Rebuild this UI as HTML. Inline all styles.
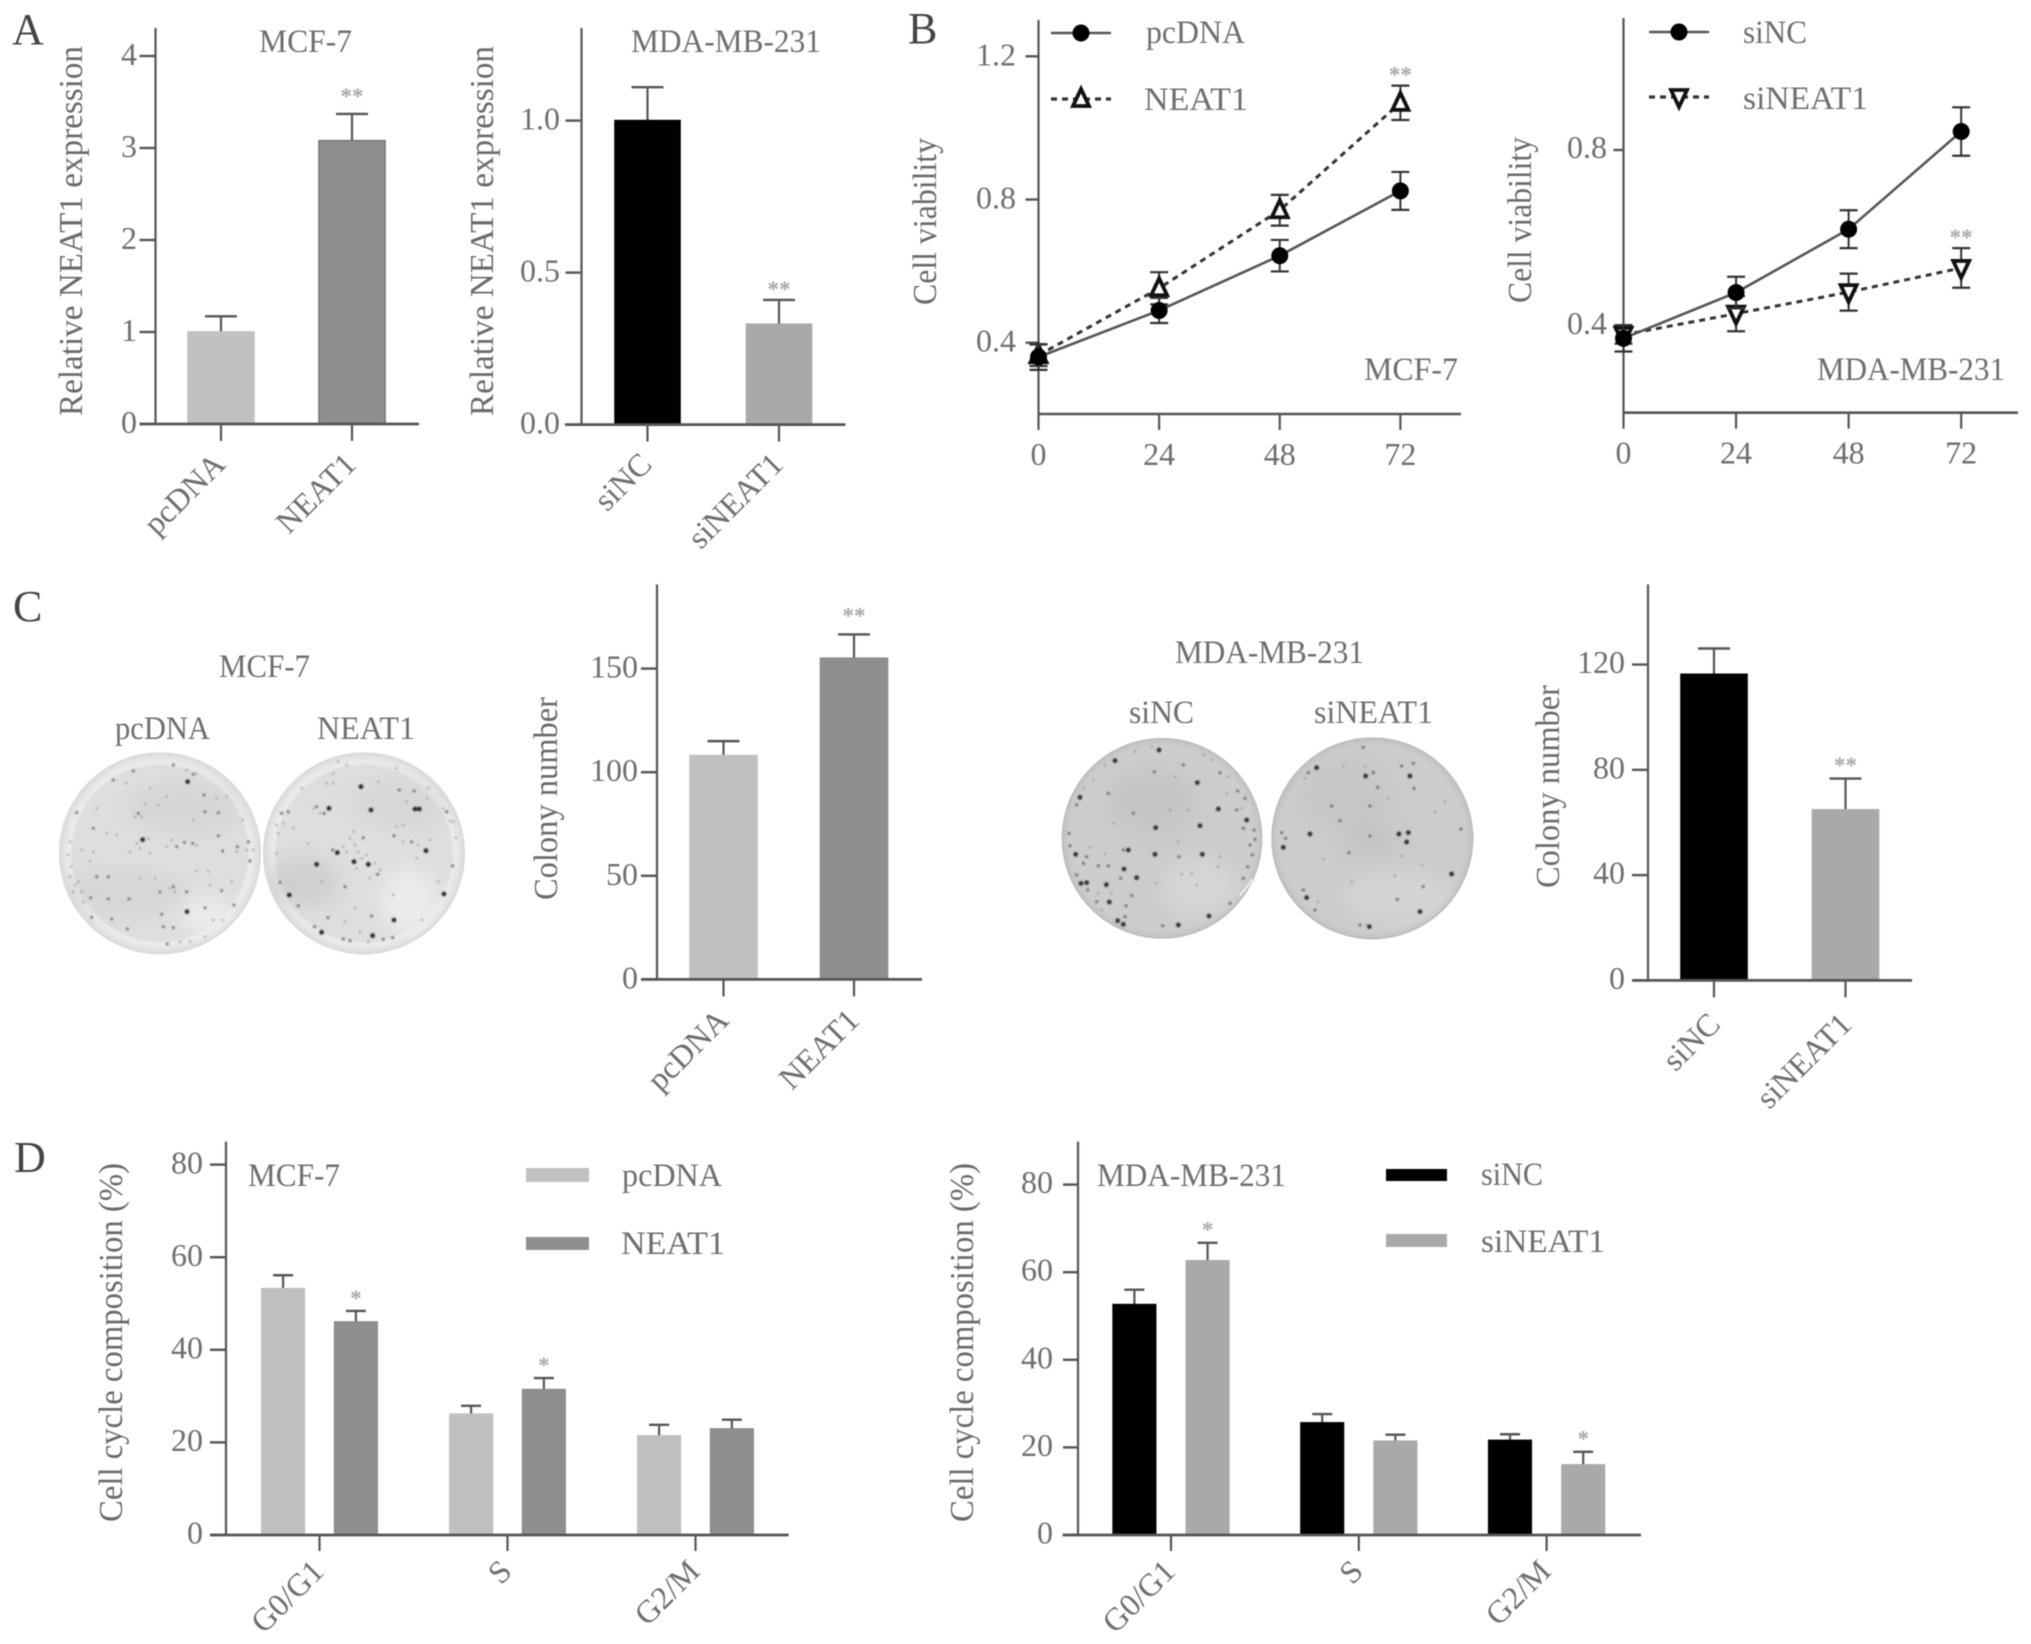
<!DOCTYPE html>
<html lang="en">
<head>
<meta charset="utf-8">
<title>NEAT1 expression, viability, colony formation and cell cycle</title>
<style>
html,body{margin:0;padding:0;background:#fff;}
body{width:2031px;height:1644px;overflow:hidden;}
svg{display:block;filter:blur(.55px);}
text{font-family:"Liberation Serif",serif;fill:#6e6e6e;}
.panel{fill:#444;font-size:44px;}
.lab{font-size:33px;}
.ttl{font-size:33.5px;fill:#6a6a6a;}
</style>
</head>
<body>
<svg id="figure" xmlns="http://www.w3.org/2000/svg" width="2031" height="1644" viewBox="0 0 2031 1644">
<defs>
<radialGradient id="dishLight" cx="50%" cy="50%" r="50%">
<stop offset="0" stop-color="#e0e0e0"/><stop offset=".86" stop-color="#dedede"/><stop offset=".9" stop-color="#ececec"/><stop offset=".97" stop-color="#e0e0e0"/><stop offset="1" stop-color="#d6d6d6"/>
</radialGradient>
<radialGradient id="dishDark" cx="50%" cy="50%" r="50%">
<stop offset="0" stop-color="#cbcbcb"/><stop offset=".92" stop-color="#cdcdcd"/><stop offset=".98" stop-color="#c4c4c4"/><stop offset="1" stop-color="#b4b4b4"/>
</radialGradient>
<filter id="soft" x="-30%" y="-30%" width="160%" height="160%"><feGaussianBlur stdDeviation="28"/></filter>
<filter id="spotBlur" x="-5%" y="-5%" width="110%" height="110%"><feGaussianBlur stdDeviation="2.4"/></filter>
<clipPath id="clipD1"><circle cx="330" cy="325" r="296"/></clipPath>
<clipPath id="clipD2"><circle cx="942" cy="325" r="296"/></clipPath>
<clipPath id="clipD3"><circle cx="321" cy="325" r="296"/></clipPath>
<clipPath id="clipD4"><circle cx="952" cy="325" r="296"/></clipPath>
</defs>

<!-- Panel letters -->
<text class="panel" x="12" y="44">A</text>
<text class="panel" x="908" y="43">B</text>
<text class="panel" x="13" y="621">C</text>
<text class="panel" x="14" y="1172">D</text>

<!-- Panel A text -->
<text class="lab" x="259" y="52" textLength="93" lengthAdjust="spacingAndGlyphs">MCF-7</text>
<text class="lab" x="631" y="52" textLength="190" lengthAdjust="spacingAndGlyphs">MDA-MB-231</text>
<text class="ttl" transform="translate(82,416) rotate(-90)" textLength="370" lengthAdjust="spacingAndGlyphs">Relative NEAT1 expression</text>
<text class="ttl" transform="translate(493,416) rotate(-90)" textLength="370" lengthAdjust="spacingAndGlyphs">Relative NEAT1 expression</text>

<!-- Panel B text and legends -->
<text class="ttl" transform="translate(936,305) rotate(-90)" textLength="167" lengthAdjust="spacingAndGlyphs">Cell viability</text>
<text class="ttl" transform="translate(1531,303) rotate(-90)" textLength="166" lengthAdjust="spacingAndGlyphs">Cell viability</text>
<text class="lab" x="1364" y="380" textLength="94" lengthAdjust="spacingAndGlyphs">MCF-7</text>
<text class="lab" x="1817" y="380" textLength="188" lengthAdjust="spacingAndGlyphs">MDA-MB-231</text>

<g>
<line x1="1051" x2="1111" y1="33" y2="33" stroke="#555" stroke-width="2.6"/>
<circle cx="1081" cy="33" r="8.5" fill="#000"/>
<text class="lab" x="1146" y="43" textLength="99" lengthAdjust="spacingAndGlyphs">pcDNA</text>
</g>
<g>
<line x1="1051" x2="1111" y1="99" y2="99" stroke="#333" stroke-width="3.2" stroke-dasharray="6 5"/>
<polygon points="1081,89 1073,106 1089,106" fill="#fff" stroke="#111" stroke-width="3.8"/>
<text class="lab" x="1144" y="110" textLength="104" lengthAdjust="spacingAndGlyphs">NEAT1</text>
</g>
<g>
<line x1="1649" x2="1709" y1="32" y2="32" stroke="#555" stroke-width="2.6"/>
<circle cx="1679" cy="32" r="8.5" fill="#000"/>
<text class="lab" x="1743" y="43" textLength="64" lengthAdjust="spacingAndGlyphs">siNC</text>
</g>
<g>
<line x1="1649" x2="1709" y1="97" y2="97" stroke="#333" stroke-width="3.2" stroke-dasharray="6 5"/>
<polygon points="1679,107 1671,90 1687,90" fill="#fff" stroke="#111" stroke-width="3.8"/>
<text class="lab" x="1743" y="109" textLength="125" lengthAdjust="spacingAndGlyphs">siNEAT1</text>
</g>

<!-- Panel C text -->
<text class="lab" x="219" y="677" textLength="91" lengthAdjust="spacingAndGlyphs">MCF-7</text>
<text class="lab" x="115" y="739" textLength="95" lengthAdjust="spacingAndGlyphs">pcDNA</text>
<text class="lab" x="317" y="739" textLength="98" lengthAdjust="spacingAndGlyphs">NEAT1</text>
<text class="lab" x="1175" y="663" textLength="189" lengthAdjust="spacingAndGlyphs">MDA-MB-231</text>
<text class="lab" x="1129" y="723" textLength="65" lengthAdjust="spacingAndGlyphs">siNC</text>
<text class="lab" x="1314" y="723" textLength="119" lengthAdjust="spacingAndGlyphs">siNEAT1</text>
<text class="ttl" transform="translate(557,900) rotate(-90)" textLength="203" lengthAdjust="spacingAndGlyphs">Colony number</text>
<text class="ttl" transform="translate(1559,888) rotate(-90)" textLength="203" lengthAdjust="spacingAndGlyphs">Colony number</text>

<!-- Colony dishes (MCF-7) -->
<g transform="translate(50,745) scale(.3333)">
<g>
<circle cx="330" cy="325" r="303" fill="url(#dishLight)"/>
<g clip-path="url(#clipD1)" filter="url(#soft)">
<ellipse cx="400" cy="190" rx="170" ry="75" fill="#c8c8c8" opacity=".4"/>
<ellipse cx="230" cy="440" rx="190" ry="70" fill="#cacaca" opacity=".4"/>
<ellipse cx="470" cy="510" rx="80" ry="60" fill="#eeeeee" opacity=".8"/>
</g>
<g filter="url(#spotBlur)">
<path fill="none" stroke="#2c2c2c" stroke-width="14" stroke-linecap="round" d="M413 110h0M411 500h0M278 284h0"/>
<path fill="none" stroke="#777" stroke-width="9" stroke-linecap="round" d="M80 203h0M130 250h0M403 292h0M380 305h0M428 295h0M505 272h0M562 305h0M595 290h0M600 348h0M518 318h0M175 395h0M140 395h0M237 462h0M122 458h0M175 462h0M410 440h0M515 437h0M465 488h0M552 480h0M335 508h0M340 545h0M125 517h0M185 522h0M232 552h0M370 548h0M352 597h0M330 440h0M370 425h0M265 205h0M465 200h0M505 203h0M462 150h0M370 60h0M430 88h0M250 78h0M190 105h0"/>
<path fill="none" stroke="#a0a0a0" stroke-width="7" stroke-linecap="round" d="M60 290h0M65 365h0M55 330h0M60 395h0M85 410h0M95 440h0M100 470h0M140 190h0M300 130h0M285 175h0M325 180h0M228 115h0M350 155h0M430 225h0M500 160h0M530 155h0M578 225h0M170 265h0M200 270h0M95 315h0M120 348h0M270 310h0M300 325h0M240 320h0M315 400h0M270 400h0M440 378h0M475 380h0M545 410h0M490 525h0M518 525h0M420 590h0M465 575h0M390 590h0M440 85h0M410 75h0M255 215h0M275 215h0M260 295h0M295 280h0M350 305h0M365 285h0M75 420h0M70 440h0M375 440h0M360 430h0M560 320h0M590 315h0M610 315h0M130 320h0M440 300h0M480 420h0"/>
</g>
</g>
<g>
<circle cx="942" cy="325" r="303" fill="url(#dishLight)"/>
<g clip-path="url(#clipD2)" filter="url(#soft)">
<ellipse cx="1040" cy="180" rx="140" ry="70" fill="#cccccc" opacity=".4"/>
<ellipse cx="760" cy="410" rx="110" ry="75" fill="#c2c2c2" opacity=".5"/>
<ellipse cx="1080" cy="470" rx="90" ry="100" fill="#eeeeee" opacity=".8"/>
</g>
<g filter="url(#spotBlur)">
<path fill="none" stroke="#222" stroke-width="14" stroke-linecap="round" d="M933 125h0M837 190h0M963 195h0M1095 192h0M1108 192h0M862 323h0M912 350h0M955 358h0M800 358h0M718 450h0M1032 525h0M968 572h0M815 562h0M1128 317h0M1182 447h0"/>
<path fill="none" stroke="#707070" stroke-width="9" stroke-linecap="round" d="M1032 272h0M1085 290h0M940 278h0M848 315h0M885 425h0M834 518h0M794 545h0M690 412h0M1092 138h0M1048 135h0M715 200h0M695 205h0M800 185h0M822 205h0M745 482h0M1000 583h0M1028 578h0M880 582h0M900 587h0M965 513h0M983 388h0M1208 362h0M1190 200h0"/>
<path fill="none" stroke="#a0a0a0" stroke-width="7" stroke-linecap="round" d="M680 240h0M685 265h0M680 325h0M730 250h0M775 295h0M850 85h0M890 60h0M865 50h0M1040 70h0M1130 160h0M1180 190h0M1200 228h0M1218 278h0M1040 245h0M1060 240h0M910 260h0M915 300h0M890 320h0M925 320h0M950 330h0M975 355h0M920 370h0M960 400h0M815 410h0M1030 450h0M1165 410h0M1115 525h0M955 590h0M930 560h0M885 530h0M915 490h0M790 190h0M810 205h0M850 115h0M830 115h0M985 110h0M1070 170h0M1135 130h0M1060 290h0M1105 300h0M1140 285h0M1100 340h0M900 280h0M880 305h0M935 340h0M990 375h0M1210 230h0M700 235h0M755 130h0"/>
</g>
</g>
</g>

<!-- Colony dishes (MDA-MB-231) -->
<g transform="translate(1055,730) scale(.3333)">
<g>
<circle cx="321" cy="325" r="301" fill="url(#dishDark)"/>
<g clip-path="url(#clipD3)" filter="url(#soft)">
<ellipse cx="290" cy="210" rx="130" ry="90" fill="#bcbcbc" opacity=".45"/>
<ellipse cx="430" cy="470" rx="110" ry="90" fill="#d8d8d8" opacity=".8"/>
</g>
<g filter="url(#spotBlur)">
<path fill="none" stroke="#2a2a2a" stroke-width="14" stroke-linecap="round" d="M75 202h0M180 92h0M312 60h0M427 158h0M490 237h0M435 287h0M575 270h0M300 373h0M245 443h0M302 293h0M442 373h0M207 417h0M62 373h0M78 460h0M95 458h0M163 516h0M154 464h0M462 558h0M370 585h0M205 583h0M188 572h0M220 360h0"/>
<path fill="none" stroke="#6a6a6a" stroke-width="9" stroke-linecap="round" d="M42 310h0M45 347h0M65 225h0M570 205h0M548 183h0M597 300h0M600 328h0M585 345h0M592 375h0M578 410h0M565 445h0M197 445h0M98 480h0M213 527h0M230 497h0M525 520h0M372 380h0M160 190h0M235 250h0M298 125h0M385 105h0M205 360h0M130 407h0M160 407h0M95 380h0M85 400h0M65 435h0M125 515h0M210 560h0M323 587h0M565 295h0M545 240h0M495 128h0"/>
<path fill="none" stroke="#989898" stroke-width="7" stroke-linecap="round" d="M150 105h0M240 65h0M290 50h0M445 75h0M470 90h0M520 140h0M515 190h0M560 235h0M400 240h0M345 240h0M175 280h0M360 140h0M105 352h0M150 372h0M370 335h0M495 380h0M490 410h0M380 433h0M410 430h0M425 465h0M305 460h0M170 490h0M130 490h0M140 540h0M115 150h0M88 175h0"/>
</g>
<path fill="none" stroke="#f0f0f0" stroke-width="6" stroke-linecap="round" d="M555 495Q575 475 590 450"/>
</g>
<g>
<circle cx="952" cy="325" r="303" fill="url(#dishDark)"/>
<g clip-path="url(#clipD4)" filter="url(#soft)">
<ellipse cx="870" cy="190" rx="130" ry="110" fill="#c0c0c0" opacity=".45"/>
<ellipse cx="950" cy="330" rx="70" ry="50" fill="#bdbdbd" opacity=".5"/>
<ellipse cx="1030" cy="500" rx="160" ry="80" fill="#d6d6d6" opacity=".8"/>
</g>
<g filter="url(#spotBlur)">
<path fill="none" stroke="#2a2a2a" stroke-width="14" stroke-linecap="round" d="M1065 138h0M932 138h0M765 312h0M1060 308h0M1032 312h0M1055 336h0M755 503h0M1190 432h0M1095 545h0M685 352h0M943 590h0M785 113h0"/>
<path fill="none" stroke="#6a6a6a" stroke-width="9" stroke-linecap="round" d="M680 308h0M692 325h0M925 52h0M955 128h0M830 228h0M855 272h0M945 318h0M882 368h0M1105 470h0M1027 508h0M780 540h0M915 585h0M1077 175h0M968 172h0M945 228h0M745 480h0M1218 297h0M1075 100h0M1040 108h0M760 128h0"/>
<path fill="none" stroke="#989898" stroke-width="7" stroke-linecap="round" d="M750 145h0M865 108h0M930 110h0M1000 205h0M1140 245h0M1170 215h0M1040 378h0M805 388h0M1100 405h0M1020 437h0M890 455h0M788 515h0M935 585h0"/>
</g>
</g>
</g>

<!-- Panel D text and legends -->
<text class="ttl" transform="translate(122,1522) rotate(-90)" textLength="359" lengthAdjust="spacingAndGlyphs">Cell cycle composition (%)</text>
<text class="ttl" transform="translate(973,1522) rotate(-90)" textLength="359" lengthAdjust="spacingAndGlyphs">Cell cycle composition (%)</text>
<text class="lab" x="248" y="1186" textLength="92" lengthAdjust="spacingAndGlyphs">MCF-7</text>
<text class="lab" x="1097" y="1186" textLength="189" lengthAdjust="spacingAndGlyphs">MDA-MB-231</text>
<g>
<rect x="526" y="1168" width="63" height="14" fill="#c0c0c0"/>
<text class="lab" x="622" y="1186" textLength="100" lengthAdjust="spacingAndGlyphs">pcDNA</text>
</g>
<g>
<rect x="526" y="1237" width="63" height="13" fill="#8f8f8f"/>
<text class="lab" x="621" y="1254" textLength="104" lengthAdjust="spacingAndGlyphs">NEAT1</text>
</g>
<g>
<rect x="1386" y="1169" width="61" height="12" fill="#000"/>
<text class="lab" x="1481" y="1185" textLength="62" lengthAdjust="spacingAndGlyphs">siNC</text>
</g>
<g>
<rect x="1386" y="1234" width="61" height="13" fill="#a9a9a9"/>
<text class="lab" x="1481" y="1252" textLength="124" lengthAdjust="spacingAndGlyphs">siNEAT1</text>
</g>

<g id="charts"></g>
</svg>

<script>
/* ---------- Panel A, MCF-7 ---------- */
const a1Categories = ['pcDNA', 'NEAT1'];
const a1Values = [1.0, 3.08];
const a1Errors = [0.17, 0.29];
const a1Stars = ['', '**'];
const a1YTicks = [0, 1, 2, 3, 4];
const a1YTickLabels = ['0', '1', '2', '3', '4'];

/* ---------- Panel A, MDA-MB-231 ---------- */
const a2Categories = ['siNC', 'siNEAT1'];
const a2Values = [1.0, 0.33];
const a2Errors = [0.11, 0.08];
const a2Stars = ['', '**'];
const a2YTicks = [0, 0.5, 1];
const a2YTickLabels = ['0.0', '0.5', '1.0'];

/* ---------- Panel B, MCF-7 ---------- */
const b1Hours = [0, 24, 48, 72];
const b1HourLabels = ['0', '24', '48', '72'];
const b1YTicks = [0.4, 0.8, 1.2];
const b1YTickLabels = ['0.4', '0.8', '1.2'];
const b1Control = [0.36, 0.49, 0.643, 0.824];
const b1ControlErrors = [0.036, 0.035, 0.044, 0.053];
const b1Treated = [0.365, 0.552, 0.77, 1.07];
const b1TreatedErrors = [0.03, 0.045, 0.043, 0.048];
const b1TreatedStars = ['', '', '', '**'];

/* ---------- Panel B, MDA-MB-231 ---------- */
const b2Hours = [0, 24, 48, 72];
const b2HourLabels = ['0', '24', '48', '72'];
const b2YTicks = [0.4, 0.8];
const b2YTickLabels = ['0.4', '0.8'];
const b2Control = [0.372, 0.476, 0.62, 0.842];
const b2ControlErrors = [0.03, 0.036, 0.043, 0.055];
const b2Treated = [0.38, 0.428, 0.477, 0.532];
const b2TreatedErrors = [0.02, 0.04, 0.042, 0.045];
const b2TreatedStars = ['', '', '', '**'];

/* ---------- Panel C, MCF-7 ---------- */
const c1Categories = ['pcDNA', 'NEAT1'];
const c1Values = [108, 155];
const c1Errors = [7, 11.5];
const c1Stars = ['', '**'];
const c1YTicks = [0, 50, 100, 150];
const c1YTickLabels = ['0', '50', '100', '150'];

/* ---------- Panel C, MDA-MB-231 ---------- */
const c2Categories = ['siNC', 'siNEAT1'];
const c2Values = [116.3, 64.8];
const c2Errors = [9.8, 11.9];
const c2Stars = ['', '**'];
const c2YTicks = [0, 40, 80, 120];
const c2YTickLabels = ['0', '40', '80', '120'];

/* ---------- Panel D, MCF-7 ---------- */
const d1Phases = ['G0/G1', 'S', 'G2/M'];
const d1Control = [53.2, 26.1, 21.4];
const d1ControlErrors = [2.9, 1.8, 2.4];
const d1Treated = [46, 31.4, 22.9];
const d1TreatedErrors = [2.4, 2.5, 2.0];
const d1TreatedStars = ['*', '*', ''];
const d1YTicks = [0, 20, 40, 60, 80];
const d1YTickLabels = ['0', '20', '40', '60', '80'];

/* ---------- Panel D, MDA-MB-231 ---------- */
const d2Phases = ['G0/G1', 'S', 'G2/M'];
const d2Control = [52.6, 25.6, 21.6];
const d2ControlErrors = [3.4, 2.0, 1.4];
const d2Treated = [62.6, 21.4, 16];
const d2TreatedErrors = [4.1, 1.5, 3.0];
const d2TreatedStars = ['*', '', '*'];
const d2YTicks = [0, 20, 40, 60, 80];
const d2YTickLabels = ['0', '20', '40', '60', '80'];

const SVGNS = 'http://www.w3.org/2000/svg';
const AXIS = '#555';
const chartsRoot = document.getElementById('charts');

function mk(tag, parent, props) {
  const el = document.createElementNS(SVGNS, tag);
  for (const k in props) el.setAttribute(k, props[k]);
  parent.appendChild(el);
  return el;
}

function makeGroup(name) {
  const el = mk('g', chartsRoot, {});
  
  
  return el;
}

function hLine(parent, x1, x2, y, name, color, width) {
  const el = mk('line', parent, {x1: x1, x2: x2, y1: y, y2: y, stroke: color || AXIS, 'stroke-width': width || 2.4});
  
  
  return el;
}

function vLine(parent, x, y1, y2, name, color, width) {
  const el = mk('line', parent, {x1: x, x2: x, y1: y1, y2: y2, stroke: color || AXIS, 'stroke-width': width || 2.2});
  
  
  return el;
}

function addText(parent, x, y, str, name, props) {
  const el = mk('text', parent, Object.assign({x: x, y: y}, props || {}));
  el.textContent = str;
  
  
  return el;
}

function drawYAxis(g, o, yScale, ticks, labels) {
  vLine(g, o.axisX, o.axisTop, o.baseY, 'y-axis');
  ticks.forEach((t, i) => {
    hLine(g, o.axisX - o.tickLen, o.axisX, yScale(t), 'y-tick');
    addText(g, o.labelRight, yScale(t) + o.labelDy, labels[i], 'y-tick-label', {'font-size': 32, 'text-anchor': 'end'});
  });
}

function drawStars(g, x, y, str) {
  if (!str) return;
  const el = addText(g, x, y + 10, str, 'significance-marker', {'font-size': 23, 'font-weight': 'bold', 'text-anchor': 'middle'});
  el.style.fill = '#a8a8a8';
}

function drawBar(g, cx, w, yTop, yBase, color, edge, name) {
  const el = mk('rect', g, {x: cx - w / 2, y: yTop, width: w, height: yBase - yTop, fill: color, stroke: edge, 'stroke-width': 1.6});
  
  
}

function drawErr(g, cx, yFrom, yTo, half, name) {
  vLine(g, cx, yFrom, yTo, name + '-stem', '#555', 2.2);
  hLine(g, cx - half, cx + half, yTo, name + '-cap', '#555', 2.4);
}

function xLabel(g, x, y, str) {
  addText(g, x, y, str, 'x-tick-label', {'font-size': 32, 'text-anchor': 'end', transform: 'rotate(-45 ' + x + ' ' + y + ')'});
}

/* Two-bar chart */
function barChart(o, categories, values, errors, stars, yTicks, yTickLabels) {
  const g = makeGroup(o.name);
  const yScale = v => o.zeroY - v * o.pxPerUnit;
  const xScale = i => o.firstX + i * o.stepX;
  categories.forEach((c, i) => {
    const cx = xScale(i);
    drawErr(g, cx, yScale(values[i]), yScale(values[i] + errors[i]), o.capHalf, 'error-bar-' + c);
    drawBar(g, cx, o.barW, yScale(values[i]), o.zeroY, o.colors[i], o.edges[i], 'bar-' + c);
    drawStars(g, cx, yScale(values[i] + errors[i]) - o.starGap, stars[i]);
    vLine(g, cx, o.zeroY, o.zeroY + 17, 'x-tick');
    xLabel(g, cx + o.labelDx, o.labelY, c);
  });
  drawYAxis(g, o, yScale, yTicks, yTickLabels);
  hLine(g, o.baseLeft, o.baseRight, o.baseY, 'x-axis', AXIS, 2.8);
}

/* Grouped two-series bar chart */
function groupedChart(o, phases, seriesA, errorsA, seriesB, errorsB, starsB, yTicks, yTickLabels) {
  const g = makeGroup(o.name);
  const yScale = v => o.zeroY - v * o.pxPerUnit;
  const xScale = i => o.firstX + i * o.stepX;
  phases.forEach((p, i) => {
    const cx = xScale(i);
    const xa = cx - o.offset;
    const xb = cx + o.offset;
    drawErr(g, xa, yScale(seriesA[i]), yScale(seriesA[i] + errorsA[i]), o.capHalf, 'error-bar-a-' + p);
    drawErr(g, xb, yScale(seriesB[i]), yScale(seriesB[i] + errorsB[i]), o.capHalf, 'error-bar-b-' + p);
    drawBar(g, xa, o.barW, yScale(seriesA[i]), o.zeroY, o.colors[0], o.edges[0], 'bar-a-' + p);
    drawBar(g, xb, o.barW, yScale(seriesB[i]), o.zeroY, o.colors[1], o.edges[1], 'bar-b-' + p);
    drawStars(g, xb, yScale(seriesB[i] + errorsB[i]) - o.starGap, starsB[i]);
    vLine(g, cx, o.zeroY, o.zeroY + 16, 'x-tick');
    xLabel(g, cx + o.labelDx, o.labelY, p);
  });
  drawYAxis(g, o, yScale, yTicks, yTickLabels);
  hLine(g, o.baseLeft, o.baseRight, o.baseY, 'x-axis', AXIS, 2.8);
}

function drawSeriesLine(g, hours, vals, xScale, yScale, name, color, dash) {
  const pts = hours.map((h, i) => xScale(h) + ',' + yScale(vals[i])).join(' ');
  const el = mk('polyline', g, {points: pts, fill: 'none', stroke: color, 'stroke-width': dash ? 3 : 2.6});
  if (dash) el.setAttribute('stroke-dasharray', dash);
  
  
}

function drawLineErrors(g, hours, vals, errs, xScale, yScale, name) {
  hours.forEach((h, i) => {
    const cx = xScale(h);
    vLine(g, cx, yScale(vals[i] - errs[i]), yScale(vals[i] + errs[i]), name + '-stem', '#333', 2);
    hLine(g, cx - 9, cx + 9, yScale(vals[i] + errs[i]), name + '-cap', '#333', 2.2);
    hLine(g, cx - 9, cx + 9, yScale(vals[i] - errs[i]), name + '-cap', '#333', 2.2);
  });
}

/* Line chart with a solid control series and a dashed treated series */
function lineChart(o, hours, hourLabels, yTicks, yTickLabels, control, controlErrors, treated, treatedErrors, stars) {
  const g = makeGroup(o.name);
  const xScale = h => o.x0 + h * o.pxPerHour;
  const yScale = v => o.refY - (v - o.refV) * o.pxPerUnit;
  drawYAxis(g, o, yScale, yTicks, yTickLabels);
  hLine(g, o.axisX, o.baseRight, o.baseY, 'x-axis', AXIS, 2.6);
  hours.forEach((h, i) => {
    vLine(g, xScale(h), o.baseY, o.baseY + 16, 'x-tick');
    addText(g, xScale(h), o.baseY + 51, hourLabels[i], 'x-tick-label', {'font-size': 32, 'text-anchor': 'middle'});
  });
  drawSeriesLine(g, hours, treated, xScale, yScale, 'treated-line', '#333', '6 5');
  drawLineErrors(g, hours, treated, treatedErrors, xScale, yScale, 'treated-error-bar');
  hours.forEach((h, i) => {
    const cx = xScale(h);
    const cy = yScale(treated[i]);
    const p = o.triangleDown
      ? [cx, cy + 10, cx - 8, cy - 7, cx + 8, cy - 7]
      : [cx, cy - 10, cx - 8, cy + 7, cx + 8, cy + 7];
    const el = mk('polygon', g, {points: p.join(' '), fill: '#fff', stroke: '#111', 'stroke-width': 3.8});
    
    
    drawStars(g, cx, yScale(treated[i] + treatedErrors[i]) - o.starGap, stars[i]);
  });
  drawSeriesLine(g, hours, control, xScale, yScale, 'control-line', '#555', null);
  drawLineErrors(g, hours, control, controlErrors, xScale, yScale, 'control-error-bar');
  hours.forEach((h, i) => {
    const el = mk('circle', g, {cx: xScale(h), cy: yScale(control[i]), r: 8.5, fill: '#000'});
    
    
  });
}

barChart({name: 'chart-a-mcf7', zeroY: 424, baseY: 424, pxPerUnit: 92, firstX: 221, stepX: 131, barW: 66, capHalf: 16, starGap: 20,
  colors: ['#c0c0c0', '#8f8f8f'], edges: ['#c0c0c0', '#777'], axisX: 155.5, axisTop: 28, tickLen: 16, labelRight: 137, labelDy: 9,
  baseLeft: 139.5, baseRight: 419, labelDx: 6, labelY: 466},
  a1Categories, a1Values, a1Errors, a1Stars, a1YTicks, a1YTickLabels);

barChart({name: 'chart-a-mda', zeroY: 424.6, baseY: 424.6, pxPerUnit: 304, firstX: 647.5, stepX: 131.5, barW: 65, capHalf: 16, starGap: 13,
  colors: ['#000', '#a9a9a9'], edges: ['#000', '#a9a9a9'], axisX: 581.5, axisTop: 28, tickLen: 16, labelRight: 560, labelDy: 9,
  baseLeft: 565, baseRight: 845.5, labelDx: 6, labelY: 466},
  a2Categories, a2Values, a2Errors, a2Stars, a2YTicks, a2YTickLabels);

lineChart({name: 'chart-b-mcf7', x0: 1038.5, pxPerHour: 5.026, refY: 342.7, refV: 0.4, pxPerUnit: 358, axisX: 1038.5, axisTop: 20, baseY: 414, baseRight: 1461,
  tickLen: 13, labelRight: 1016, labelDy: 9, starGap: 13, triangleDown: false},
  b1Hours, b1HourLabels, b1YTicks, b1YTickLabels, b1Control, b1ControlErrors, b1Treated, b1TreatedErrors, b1TreatedStars);

lineChart({name: 'chart-b-mda', x0: 1623.5, pxPerHour: 4.69, refY: 326, refV: 0.4, pxPerUnit: 440, axisX: 1623.5, axisTop: 18, baseY: 412.7, baseRight: 2018,
  tickLen: 10, labelRight: 1607, labelDy: 8, starGap: 13, triangleDown: true},
  b2Hours, b2HourLabels, b2YTicks, b2YTickLabels, b2Control, b2ControlErrors, b2Treated, b2TreatedErrors, b2TreatedStars);

barChart({name: 'chart-c-mcf7', zeroY: 979.4, baseY: 979.4, pxPerUnit: 2.072, firstX: 723.5, stepX: 130.5, barW: 67, capHalf: 16, starGap: 21,
  colors: ['#c0c0c0', '#8f8f8f'], edges: ['#c0c0c0', '#8a8a8a'], axisX: 657, axisTop: 584.5, tickLen: 16, labelRight: 638, labelDy: 9,
  baseLeft: 641, baseRight: 922, labelDx: 7, labelY: 1022},
  c1Categories, c1Values, c1Errors, c1Stars, c1YTicks, c1YTickLabels);

barChart({name: 'chart-c-mda', zeroY: 980.4, baseY: 980.4, pxPerUnit: 2.632, firstX: 1714, stepX: 131.5, barW: 66, capHalf: 16, starGap: 15.5,
  colors: ['#000', '#a9a9a9'], edges: ['#000', '#a9a9a9'], axisX: 1648, axisTop: 584.5, tickLen: 16, labelRight: 1625, labelDy: 8.5,
  baseLeft: 1632.5, baseRight: 1912, labelDx: 8, labelY: 1026},
  c2Categories, c2Values, c2Errors, c2Stars, c2YTicks, c2YTickLabels);

groupedChart({name: 'chart-d-mcf7', zeroY: 1535, baseY: 1535, pxPerUnit: 4.63, firstX: 319.5, stepX: 188, offset: 36.4, barW: 42.5, capHalf: 10, starGap: 15,
  colors: ['#c0c0c0', '#8f8f8f'], edges: ['#c0c0c0', '#8a8a8a'], axisX: 226, axisTop: 1141.7, tickLen: 16, labelRight: 203, labelDy: 8.7,
  baseLeft: 210, baseRight: 788.6, labelDx: 6, labelY: 1573},
  d1Phases, d1Control, d1ControlErrors, d1Treated, d1TreatedErrors, d1TreatedStars, d1YTicks, d1YTickLabels);

groupedChart({name: 'chart-d-mda', zeroY: 1535, baseY: 1535, pxPerUnit: 4.38, firstX: 1171, stepX: 187.8, offset: 36.6, barW: 42.5, capHalf: 10, starGap: 15.5,
  colors: ['#000', '#a9a9a9'], edges: ['#000', '#a9a9a9'], axisX: 1078, axisTop: 1141.7, tickLen: 15, labelRight: 1053, labelDy: 8.5,
  baseLeft: 1062.6, baseRight: 1641, labelDx: 6, labelY: 1573},
  d2Phases, d2Control, d2ControlErrors, d2Treated, d2TreatedErrors, d2TreatedStars, d2YTicks, d2YTickLabels);
</script>
</body>
</html>
